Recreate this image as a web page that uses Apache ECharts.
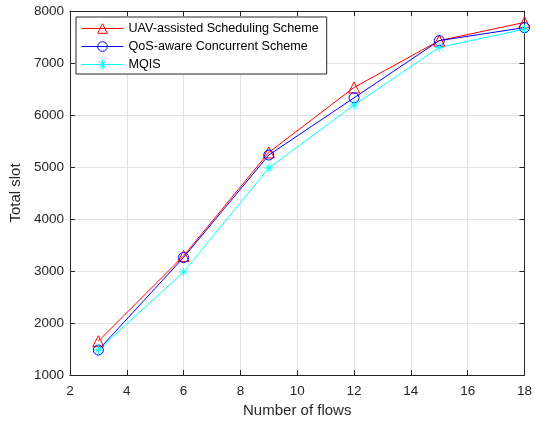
<!DOCTYPE html>
<html>
<head>
<meta charset="utf-8">
<script src="https://cdn.jsdelivr.net/npm/echarts@6/dist/echarts.min.js"></script>
<style>
html,body{margin:0;padding:0;background:#fff;}
#chart{width:535px;height:424px;}
</style>
</head>
<body>
<div id="chart"></div>
<script>
const flows = [3, 6, 9, 12, 15, 18];
const uavScheme = [1650, 3290, 5280, 6530, 7430, 7780];
const qosScheme = [1480, 3260, 5230, 6330, 7430, 7680];
const mqisScheme = [1480, 2980, 4980, 6190, 7300, 7650];
const seriesNames = ['UAV-assisted Scheduling Scheme', 'QoS-aware Concurrent Scheme', 'MQIS'];

const FONT = '"Liberation Sans", Arial, sans-serif';
const AX = '#262626';
const starPath = 'path://M5 0 L5 10 M0 5 L10 5 M1.5 1.5 L8.5 8.5 M1.5 8.5 L8.5 1.5';

function pairs(vals) { return flows.map((f, i) => [f, vals[i]]); }

const chart = echarts.init(document.getElementById('chart'), null, {renderer: 'canvas'});

function mkSeries(name, vals, color, symbol, size) {
  return {
    name: name, type: 'line', data: pairs(vals),
    symbol: symbol, symbolSize: size, showSymbol: true,
    lineStyle: {color: color, width: 1},
    itemStyle: {color: 'rgba(0,0,0,0)', borderColor: color, borderWidth: 1},
    emphasis: {disabled: true},
    animation: false
  };
}

chart.setOption({
  backgroundColor: '#fff',
  animation: false,
  grid: {left: 68, right: 6, top: 11, bottom: 49, containLabel: false},
  legend: {
    left: 76, top: 17, orient: 'vertical',
    data: seriesNames,
    backgroundColor: '#fff', borderColor: AX, borderWidth: 1,
    padding: [5, 8, 3, 5], itemGap: 5, itemWidth: 42, itemHeight: 12,
    lineStyle: {width: 1},
    itemStyle: {borderWidth: 1},
    textStyle: {fontFamily: FONT, fontSize: 12.6, color: '#000'}
  },
  xAxis: [{
    type: 'value', min: 2, max: 18, interval: 2, position: 'bottom',
    name: 'Number of flows', nameLocation: 'middle', nameGap: 27,
    nameTextStyle: {fontFamily: FONT, fontSize: 15, color: AX},
    axisLine: {onZero: false, lineStyle: {color: AX, width: 1}},
    axisTick: {inside: true, length: 5, lineStyle: {color: AX}},
    axisLabel: {fontFamily: FONT, fontSize: 13.5, color: AX, margin: 9},
    splitLine: {show: true, lineStyle: {color: '#e3e3e3', width: 1}}
  }, {
    type: 'value', min: 2, max: 18, interval: 2, position: 'top',
    axisLine: {onZero: false, lineStyle: {color: AX, width: 1}},
    axisTick: {inside: true, length: 5, lineStyle: {color: AX}},
    axisLabel: {show: false}, splitLine: {show: false}
  }],
  yAxis: [{
    type: 'value', min: 1000, max: 8000, interval: 1000, position: 'left',
    name: 'Total slot', nameLocation: 'middle', nameGap: 34,
    nameTextStyle: {fontFamily: FONT, fontSize: 15, color: AX},
    axisLine: {show: true, onZero: false, lineStyle: {color: AX, width: 1}},
    axisTick: {show: true, inside: true, length: 5, lineStyle: {color: AX}},
    axisLabel: {fontFamily: FONT, fontSize: 13.5, color: AX, margin: 6, formatter: v => String(v)},
    splitLine: {show: true, lineStyle: {color: '#e3e3e3', width: 1}}
  }, {
    type: 'value', min: 1000, max: 8000, interval: 1000, position: 'right',
    axisLine: {show: true, onZero: false, lineStyle: {color: AX, width: 1}},
    axisTick: {show: true, inside: true, length: 5, lineStyle: {color: AX}},
    axisLabel: {show: false}, splitLine: {show: false}
  }],
  series: [
    mkSeries(seriesNames[0], uavScheme, '#ff0000', 'triangle', 11),
    mkSeries(seriesNames[1], qosScheme, '#0000ff', 'circle', 10),
    mkSeries(seriesNames[2], mqisScheme, '#00ffff', starPath, 9)
  ]
});
</script>
</body>
</html>
